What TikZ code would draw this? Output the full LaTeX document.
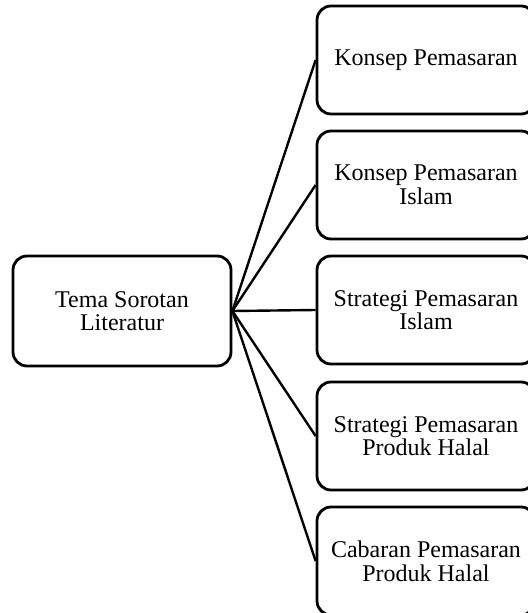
\documentclass[tikz,border=0pt]{standalone}
\usepackage{fontspec}
\setmainfont{Liberation Serif}
\usetikzlibrary{positioning}

\tikzset{
  topicbox/.style={draw, line width=1.4pt, rounded corners=7pt, align=center,
    minimum width=109pt, minimum height=54pt, inner sep=2pt,
    font=\fontsize{12pt}{11.8pt}\selectfont},
  branch/.style={line width=1.2pt}
}

\begin{document}
\begin{tikzpicture}[x=0.5pt, y=-0.5pt]

% Page frame
\useasboundingbox (0,0) rectangle (527,613);

% Main theme
\node[topicbox, minimum height=55pt] (tema) at (122,311) {Tema Sorotan\\Literatur};

% Sub topics
\node[topicbox] (konsep)   at (426,60)  {Konsep Pemasaran};
\node[topicbox] (konsepis) at (426,185) {Konsep Pemasaran\\Islam};
\node[topicbox] (strat)    at (426,310) {Strategi Pemasaran\\Islam};
\node[topicbox] (strathal) at (426,436) {Strategi Pemasaran\\Produk Halal};
\node[topicbox] (cabaran)  at (426,561) {Cabaran Pemasaran\\Produk Halal};

% Branches
\draw[branch] (tema.east) -- (konsep.west);
\draw[branch] (tema.east) -- (konsepis.west);
\draw[branch] (tema.east) -- (strat.west);
\draw[branch] (tema.east) -- (strathal.west);
\draw[branch] (tema.east) -- (cabaran.west);

\end{tikzpicture}
\end{document}
